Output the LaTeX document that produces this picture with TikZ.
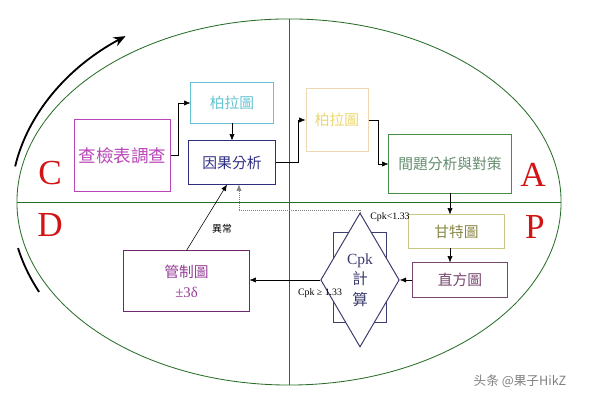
\documentclass[tikz,border=0pt]{standalone}
\usepackage{fontspec}
\setmainfont{Liberation Serif}
\newfontfamily\cjk{Noto Sans CJK TC}
\newfontfamily\cjksc{Noto Sans CJK SC}
\usetikzlibrary{arrows.meta,positioning,shapes.geometric,calc}
\definecolor{ringgreen}{RGB}{40,110,40}
\definecolor{pdcared}{RGB}{210,20,20}
\definecolor{chkc}{RGB}{185,70,185}
\definecolor{parc}{RGB}{100,195,210}
\definecolor{causec}{RGB}{45,45,130}
\definecolor{parbc}{RGB}{240,215,180}
\definecolor{partxt}{RGB}{235,215,110}
\definecolor{actc}{RGB}{70,140,70}
\definecolor{acttxt}{RGB}{100,140,110}
\definecolor{ganttc}{RGB}{200,200,130}
\definecolor{gantttxt}{RGB}{135,135,70}
\definecolor{histc}{RGB}{120,70,110}
\definecolor{cpkc}{RGB}{60,60,110}
\definecolor{ctrlc}{RGB}{110,40,110}
\definecolor{ctrltxt}{RGB}{150,60,150}

\begin{document}
\begin{tikzpicture}[x=0.025cm,y=0.025cm,
  box/.style={draw,line width=0.7pt,inner sep=1pt,align=center,font=\cjk\fontsize{10.5}{14}\selectfont},
  pdca/.style={font=\fontsize{25}{25}\selectfont,text=pdcared},
  note/.style={font=\fontsize{7}{8}\selectfont},
  >={Latex[length=1.6mm,width=1.3mm]}]
\useasboundingbox (0,0) rectangle (600,405);
\node[ellipse,draw=ringgreen,line width=0.6pt,inner sep=0pt,outer sep=0pt,minimum width=13.6cm,minimum height=9.15cm] (ring) at (289,203) {};
\draw[ringgreen,line width=0.6pt] (ring.west) -- (ring.east);
\draw[ringgreen,line width=0.6pt] (ring.north) -- (ring.south);
\draw[line width=1.3pt,-{Stealth[length=3mm,width=2.4mm]}] (ring.center) ++(170:6.95cm and 5.125cm) arc[start angle=170,end angle=126,x radius=6.95cm,y radius=5.125cm];
\draw[line width=1.3pt] (ring.center) ++(193:6.95cm and 5.125cm) arc[start angle=193,end angle=206,x radius=6.95cm,y radius=5.125cm];
\node[pdca] (lc) at (50,232) {C};
\node[pdca] (ld) at (50,180) {D};
\node[pdca] (la) at (533,230) {A};
\node[pdca] (lp) at (535,178) {P};
\node[box,draw=chkc,text=chkc,minimum width=2.375cm,minimum height=1.775cm,font=\cjk\fontsize{12.5}{14}\selectfont] (chk) at (122.5,249.5) {查檢表調查};
\node[box,draw=parc,text=parc,minimum width=2.05cm,minimum height=1cm] (par1) at (232,302) {柏拉圖};
\node[box,draw=causec,text=causec,minimum width=2.15cm,minimum height=1.075cm] (cause) at (232,242.5) {因果分析};
\node[box,draw=parbc,text=partxt,minimum width=1.55cm,minimum height=1.55cm] (par2) at (337,285) {柏拉圖};
\node[box,draw=actc,text=acttxt,minimum width=3.05cm,minimum height=1.45cm] (act) at (450,241) {間題分析與對策};
\node[box,draw=ganttc,text=gantttxt,minimum width=2.375cm,minimum height=0.825cm] (gantt) at (456.5,173.5) {甘特圖};
\node[box,draw=histc,text=histc,minimum width=2.35cm,minimum height=0.85cm] (hist) at (460,125) {直方圖};
\node[draw=cpkc,line width=0.7pt,minimum width=1.325cm,minimum height=2.225cm] (cpkbox) at (359.5,127.5) {};
\node[diamond,draw=cpkc,line width=0.7pt,fill=white,inner sep=0pt,minimum width=1.85cm,minimum height=3.35cm,align=center,text=cpkc,font=\fontsize{11}{14.5}\selectfont] (cpk) at (360,125) {Cpk\\{\cjk 計}\\{\cjk 算}};
\node[box,draw=ctrlc,text=ctrltxt,minimum width=3.125cm,minimum height=1.5cm] (ctrl) at (186.5,124) {管制圖\\{\rmfamily ±3δ}};
\node[note,font=\cjk\fontsize{7}{8}\selectfont] (abn) at (222,176) {異常};
\node[note] (lt) at (390,188) {Cpk<1.33};
\node[note] (ge) at (320,112) {Cpk ≥ 1.33};
\draw[->] (chk.east) -- ++(8,0) |- (par1.west);
\draw[->] (par1) -- (cause);
\draw[->] (cause.east) -- ++(23,0) |- (par2.west);
\draw[->] (par2.east) -- ++(10,0) |- (act.west);
\draw[->] (act.south) -- (act.south |- gantt.north);
\draw[->] (act.south |- gantt.south) -- (act.south |- hist.north);
\draw[->] (hist.west) -- (cpk.east);
\draw[->] (cpk.west) -- (cpk.west -| ctrl.east);
\draw[->] (ctrl.north) -- ($(cause.south)+(-5,0)$);
\draw[densely dotted,gray,->] (cpk.north) -- ++(0,2) -| ($(cause.south)+(7,0)$);
\node[font=\cjksc\fontsize{9}{10}\selectfont,text=gray] (mark) at (520,24) {头条 @果子HikZ};
\end{tikzpicture}
\end{document}
